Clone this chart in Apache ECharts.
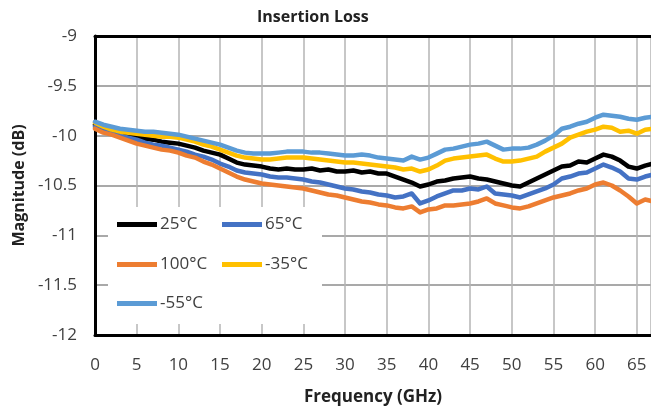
<!DOCTYPE html>
<html>
<head>
<meta charset="utf-8">
<script src="https://cdn.jsdelivr.net/npm/echarts@6/dist/echarts.min.js"></script>
<style>
  html, body { margin: 0; padding: 0; background: #fff; }
  #chart { width: 651px; height: 412px; }
</style>
</head>
<body>
<div id="chart"></div>
<script>
// Frequency sweep points (GHz)
const freq = [0,1,2,3,4,5,6,7,8,9,10,11,12,13,14,15,16,17,18,19,20,21,22,23,24,25,26,27,28,29,30,31,32,33,34,35,36,37,38,39,40,41,42,43,44,45,46,47,48,49,50,51,52,53,54,55,56,57,58,59,60,61,62,63,64,65,66,67];

// Insertion loss (dB) per temperature
const t25 = [-9.89,-9.93,-9.95,-9.97,-9.99,-10.01,-10.03,-10.04,-10.06,-10.07,-10.08,-10.10,-10.12,-10.15,-10.17,-10.19,-10.23,-10.27,-10.29,-10.30,-10.31,-10.33,-10.34,-10.33,-10.34,-10.34,-10.33,-10.35,-10.34,-10.36,-10.36,-10.35,-10.37,-10.36,-10.38,-10.38,-10.41,-10.44,-10.47,-10.51,-10.49,-10.46,-10.45,-10.43,-10.42,-10.41,-10.43,-10.44,-10.46,-10.48,-10.50,-10.51,-10.47,-10.43,-10.39,-10.35,-10.31,-10.30,-10.26,-10.27,-10.23,-10.19,-10.21,-10.25,-10.31,-10.33,-10.30,-10.28];
const t65 = [-9.91,-9.95,-9.98,-10.00,-10.02,-10.04,-10.07,-10.09,-10.10,-10.12,-10.14,-10.16,-10.19,-10.21,-10.24,-10.28,-10.31,-10.35,-10.37,-10.38,-10.39,-10.41,-10.42,-10.42,-10.43,-10.44,-10.46,-10.47,-10.49,-10.51,-10.53,-10.54,-10.56,-10.57,-10.59,-10.60,-10.62,-10.61,-10.58,-10.68,-10.65,-10.61,-10.58,-10.55,-10.55,-10.53,-10.54,-10.51,-10.58,-10.59,-10.60,-10.62,-10.59,-10.56,-10.53,-10.49,-10.43,-10.41,-10.38,-10.37,-10.33,-10.29,-10.32,-10.36,-10.43,-10.44,-10.41,-10.39];
const t100 = [-9.93,-9.97,-9.99,-10.02,-10.05,-10.08,-10.10,-10.12,-10.14,-10.15,-10.17,-10.20,-10.22,-10.26,-10.29,-10.33,-10.37,-10.41,-10.44,-10.46,-10.48,-10.49,-10.50,-10.51,-10.52,-10.53,-10.55,-10.57,-10.59,-10.60,-10.62,-10.64,-10.66,-10.67,-10.69,-10.70,-10.72,-10.73,-10.71,-10.77,-10.74,-10.73,-10.70,-10.70,-10.69,-10.68,-10.66,-10.63,-10.68,-10.70,-10.72,-10.73,-10.71,-10.68,-10.65,-10.62,-10.60,-10.58,-10.55,-10.53,-10.49,-10.47,-10.50,-10.55,-10.61,-10.68,-10.64,-10.66];
const tm35 = [-9.87,-9.91,-9.94,-9.96,-9.97,-9.98,-9.99,-10.00,-10.01,-10.01,-10.02,-10.04,-10.06,-10.09,-10.11,-10.14,-10.17,-10.20,-10.22,-10.23,-10.24,-10.24,-10.23,-10.22,-10.22,-10.22,-10.23,-10.24,-10.25,-10.26,-10.27,-10.27,-10.28,-10.29,-10.30,-10.31,-10.32,-10.34,-10.33,-10.36,-10.34,-10.30,-10.25,-10.23,-10.22,-10.21,-10.20,-10.19,-10.23,-10.26,-10.26,-10.25,-10.23,-10.21,-10.16,-10.12,-10.08,-10.02,-9.99,-9.96,-9.94,-9.91,-9.92,-9.96,-9.95,-9.98,-9.94,-9.93];
const tm55 = [-9.86,-9.89,-9.91,-9.93,-9.94,-9.95,-9.96,-9.96,-9.97,-9.98,-9.99,-10.01,-10.03,-10.05,-10.07,-10.09,-10.12,-10.15,-10.17,-10.18,-10.18,-10.18,-10.17,-10.16,-10.16,-10.16,-10.17,-10.17,-10.18,-10.19,-10.20,-10.20,-10.19,-10.20,-10.22,-10.23,-10.24,-10.25,-10.21,-10.24,-10.22,-10.18,-10.14,-10.13,-10.11,-10.09,-10.08,-10.06,-10.10,-10.14,-10.13,-10.13,-10.12,-10.09,-10.05,-10.00,-9.93,-9.91,-9.88,-9.86,-9.82,-9.79,-9.80,-9.81,-9.83,-9.84,-9.82,-9.81];

const seriesNames = ['25°C', '65°C', '100°C', '-35°C', '-55°C'];
const seriesColors = ['#000000', '#4472C4', '#ED7D31', '#FFC000', '#5B9BD5'];
const seriesValues = [t25, t65, t100, tm35, tm55];

const FONT = '"Open Sans", sans-serif';
const TEXT = '#404040';

const chart = echarts.init(document.getElementById('chart'), null, { renderer: 'canvas' });

// Legend entries placed as a 2-column block: [name, left, top]
const legendSlots = [
  ['25°C', 117, 216],
  ['65°C', 222, 216],
  ['100°C', 117, 256],
  ['-35°C', 222, 256],
  ['-55°C', 117, 295]
];

const option = {
  animation: false,
  backgroundColor: '#ffffff',
  title: {
    text: 'Insertion Loss',
    left: 252,
    top: 4,
    textStyle: { fontFamily: FONT, fontSize: 16, fontWeight: 'bold', color: '#222' }
  },
  grid: { left: 95, top: 36, right: 0, bottom: 77, containLabel: false },
  graphic: [{
    type: 'rect',
    z: 3,
    shape: { x: 108, y: 207, width: 214, height: 117 },
    style: { fill: '#ffffff' }
  }],
  legend: legendSlots.map(([name, left, top]) => ({
    data: [name],
    left: left,
    top: top,
    padding: 0,
    icon: 'rect',
    itemWidth: 40,
    itemHeight: 5,
    selectedMode: false,
    textStyle: { fontFamily: FONT, fontSize: 17, color: TEXT, padding: [0, 0, 0, -2] }
  })),
  xAxis: [{
    type: 'value',
    min: 0,
    max: 66.7,
    interval: 5,
    name: 'Frequency (GHz)',
    nameLocation: 'middle',
    nameGap: 54,
    nameTextStyle: { fontFamily: FONT, fontSize: 17, fontWeight: 'bold', color: '#222' },
    axisLine: { onZero: false, lineStyle: { color: '#000', width: 3 } },
    axisTick: { show: false },
    axisLabel: { fontFamily: FONT, fontSize: 17, color: TEXT, margin: 22, showMaxLabel: false },
    splitLine: { show: true, lineStyle: { color: '#b4b4b4', width: 1.5 } }
  }, {
    type: 'value',
    position: 'top',
    min: 0,
    max: 66.7,
    axisLine: { onZero: false, lineStyle: { color: '#000', width: 3 } },
    axisTick: { show: false },
    axisLabel: { show: false },
    splitLine: { show: false }
  }],
  yAxis: {
    type: 'value',
    min: -12,
    max: -9,
    interval: 0.5,
    name: 'Magnitude (dB)',
    nameLocation: 'middle',
    nameGap: 68,
    nameRotate: 90,
    nameTextStyle: { fontFamily: FONT, fontSize: 16, fontWeight: 'bold', color: '#222' },
    axisLine: { show: true, onZero: false, lineStyle: { color: '#000', width: 3 } },
    axisTick: { show: false },
    axisLabel: { fontFamily: FONT, fontSize: 17, color: TEXT, margin: 18 },
    splitLine: { show: true, lineStyle: { color: '#8c8c8c', width: 1.5 } }
  },
  series: seriesNames.map((name, i) => ({
    name: name,
    type: 'line',
    xAxisIndex: 0,
    showSymbol: false,
    symbol: 'none',
    smooth: false,
    color: seriesColors[i],
    lineStyle: { color: seriesColors[i], width: 4.5, join: 'round', cap: 'round' },
    data: freq.map((f, k) => [f, seriesValues[i][k]])
  }))
};

chart.setOption(option);
</script>
</body>
</html>
